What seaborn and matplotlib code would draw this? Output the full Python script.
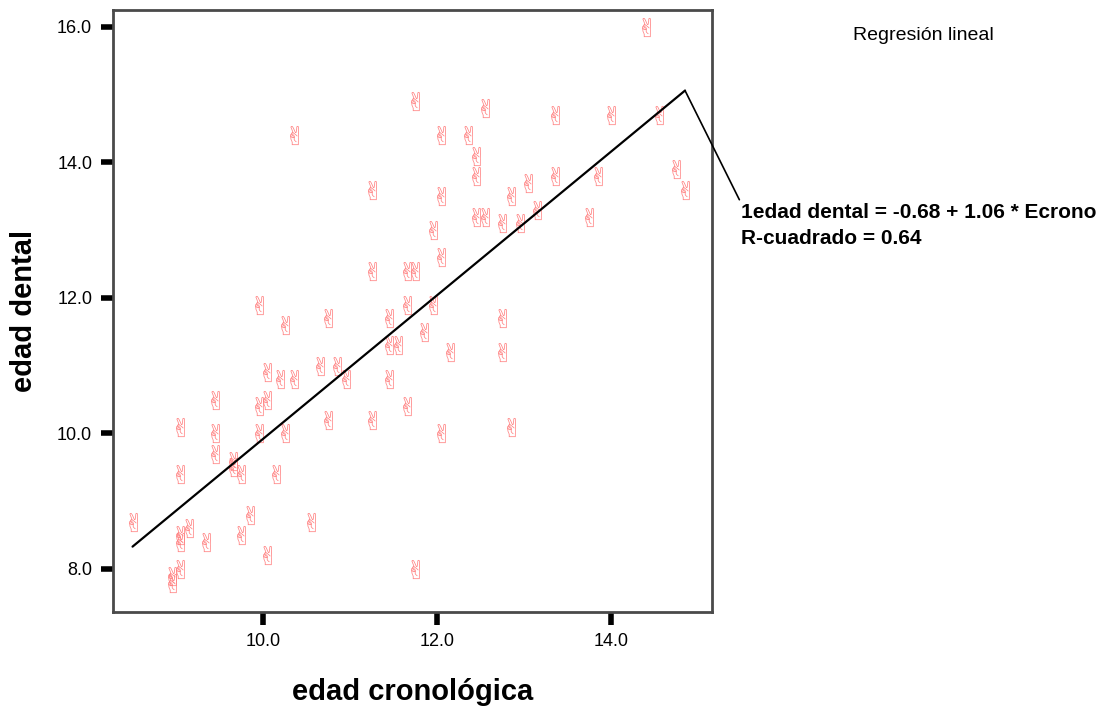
#!/usr/bin/env python3

import numpy as np
import pandas as pd
import matplotlib
matplotlib.use("Agg")
import matplotlib.pyplot as plt
import seaborn as sns

# edad cronologica (x) / edad dental (y)
edad_crono = [14.4, 11.75, 12.55, 13.35, 14.0, 14.55, 10.35, 12.05, 12.35, 12.45,
              12.45, 13.35, 13.85, 14.75, 14.85, 11.25, 12.05, 13.05, 12.85, 13.15,
              13.75, 12.45, 12.55, 12.75, 12.95, 11.95, 12.05, 11.25, 11.65, 11.75,
              11.65, 11.95, 9.95, 10.25, 10.75, 11.45, 12.75, 11.85, 11.45, 11.55,
              12.15, 12.75, 10.65, 10.85, 10.95, 10.05, 10.2, 10.35, 11.45, 9.45,
              10.05, 9.95, 11.65, 9.05, 12.85, 9.45, 9.95, 10.25, 12.05, 11.25,
              10.75, 9.45, 9.65, 9.65, 9.75, 9.05, 10.15, 8.5, 10.55, 9.85,
              9.15, 9.05, 9.05, 9.35, 9.75, 10.05, 9.05, 8.95, 8.95, 11.75]
edad_dental = [16.0, 14.9, 14.8, 14.7, 14.7, 14.7, 14.4, 14.4, 14.4, 14.1,
               13.8, 13.8, 13.8, 13.9, 13.6, 13.6, 13.5, 13.7, 13.5, 13.3,
               13.2, 13.2, 13.2, 13.1, 13.1, 13.0, 12.6, 12.4, 12.4, 12.4,
               11.9, 11.9, 11.9, 11.6, 11.7, 11.7, 11.7, 11.5, 11.3, 11.3,
               11.2, 11.2, 11.0, 11.0, 10.8, 10.9, 10.8, 10.8, 10.8, 10.5,
               10.5, 10.4, 10.4, 10.1, 10.1, 10.0, 10.0, 10.0, 10.0, 10.2,
               10.2, 9.7, 9.6, 9.5, 9.4, 9.4, 9.4, 8.7, 8.7, 8.8,
               8.6, 8.5, 8.4, 8.4, 8.5, 8.2, 8.0, 7.9, 7.8, 8.0]

# fitted model, as printed on the chart
intercept = -0.68
slope = 1.06
r2 = 0.64

df = pd.DataFrame({"crono": edad_crono, "dental": edad_dental})
# SPSS draws the fit line across the observed x range
xs = np.array([df["crono"].min(), df["crono"].max()])
fit = pd.DataFrame({"crono": xs, "dental": intercept + slope * xs})

sns.set_style("white")
plt.rcParams["font.family"] = ["Liberation Sans", "DejaVu Sans"]
plt.rcParams["text.color"] = "black"
plt.rcParams["axes.labelcolor"] = "black"

fig = plt.figure(figsize=(11.16, 7.09), dpi=100)
ax = fig.add_axes([0.1013, 0.1368, 0.5367, 0.8491])

sns.scatterplot(data=df, x="crono", y="dental", ax=ax, marker="$\u270C$",
                s=190, color="#ff8080", linewidth=0, legend=False)
sns.lineplot(data=fit, x="crono", y="dental", ax=ax, color="black", linewidth=1.6)

ax.set_xlim(8.276, 15.16)
ax.set_ylim(7.365, 16.25)
ax.set_xticks([10, 12, 14])
ax.set_yticks([8, 10, 12, 14, 16])
ax.xaxis.set_major_formatter(matplotlib.ticker.FormatStrFormatter("%.1f"))
ax.yaxis.set_major_formatter(matplotlib.ticker.FormatStrFormatter("%.1f"))
ax.tick_params(axis="both", which="major", direction="out", length=9, width=4,
               color="black", labelcolor="black", labelsize=13, pad=6,
               bottom=True, left=True)
for sp in ax.spines.values():
    sp.set_color("#4a4a4a")
    sp.set_linewidth(2)

ax.set_xlabel("edad cronológica", fontsize=21, fontweight="bold", labelpad=20)
ax.set_ylabel("edad dental", fontsize=21, fontweight="bold", labelpad=14)

# leader line from end of fit to the equation label
ax.annotate(f"1edad dental = {intercept:.2f} + {slope:.2f} * Ecrono\nR-cuadrado = {r2:.2f}",
            xy=(xs[-1], intercept + slope * xs[-1]), xycoords="data",
            xytext=(741 / 1116, 1 - 203 / 709), textcoords="figure fraction",
            ha="left", va="top", fontsize=15, fontweight="bold", linespacing=1.45,
            arrowprops=dict(arrowstyle="-", color="black", lw=1.2,
                            shrinkA=0, shrinkB=0, relpos=(0, 1)),
            annotation_clip=False)

fig.text(923 / 1116, 1 - 35 / 709, "Regresión lineal", ha="center", va="center",
         fontsize=14)

fig.savefig("out.png", dpi=100)
plt.close(fig)
